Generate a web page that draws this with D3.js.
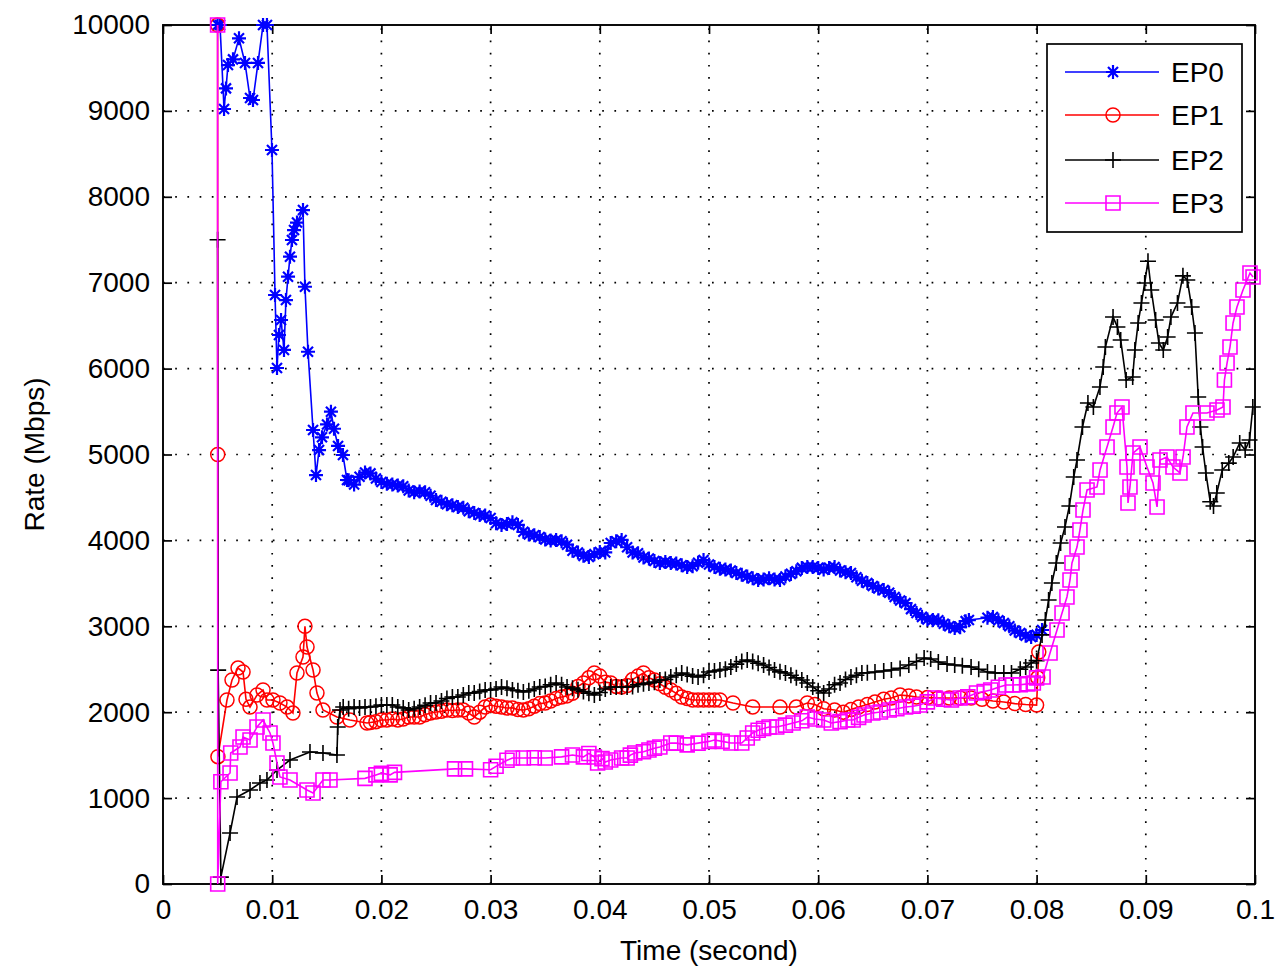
<!DOCTYPE html>
<html><head><meta charset="utf-8">
<script src="https://cdn.jsdelivr.net/npm/d3@7"></script>
<style>body{margin:0;background:#fff}svg text{font-family:"Liberation Sans",Arial,Helvetica,sans-serif;fill:#000}</style>
</head><body><svg id="chart" width="1275" height="971"></svg>
<script>
// ---- data (time in milliseconds, rate in Mbps) ----
const xTickValues=[0,0.01,0.02,0.03,0.04,0.05,0.06,0.07,0.08,0.09,0.1];
const xTickLabels=["0","0.01","0.02","0.03","0.04","0.05","0.06","0.07","0.08","0.09","0.1"];
const yTickValues=[0,1000,2000,3000,4000,5000,6000,7000,8000,9000,10000];
const yTickLabels=["0","1000","2000","3000","4000","5000","6000","7000","8000","9000","10000"];
const seriesNames=["EP0","EP1","EP2","EP3"];
const seriesColors=["#0000ff","#ff0000","#000000","#ff00ff"];
const seriesMarkers=["asterisk","circle","plus","square"];

const ep0Points=[[5.00,10000],[5.22,10000],[5.59,9022],[5.77,9262],[5.95,9534],[6.41,9600],[6.96,9845],[7.51,9558],[7.97,9150],[8.24,9127],
[8.70,9558],[9.16,10000],[9.52,10000],[9.98,8545],[10.26,6857],[10.44,6007],[10.62,6391],[10.81,6566],[11.08,6217],[11.26,6798],
[11.45,7070],[11.63,7303],[11.81,7497],[12.00,7613],[12.27,7700],[12.82,7846],[13.00,6953],[13.28,6196],[13.74,5285],[14.01,4761],
[14.29,5052],[14.56,5200],[15.02,5350],[15.38,5498],[15.66,5300],[16.03,5100],[16.48,4994],[16.85,4703],
[17,4700],[17.5,4650],[18,4740],[18.5,4790],[19,4780],[19.5,4720],[20,4680],[20.5,4660],[21,4650],[21.5,4640],
[22,4630],[22.5,4580],[23,4560],[23.5,4570],[24,4560],[24.5,4520],[25,4470],[25.5,4450],[26,4420],[26.5,4410],
[27,4390],[27.5,4380],[28,4340],[28.5,4320],[29,4296],[29.5,4290],[30,4260],[30.5,4200],[31,4180],[31.5,4190],
[32,4210],[32.5,4180],[33,4100],[33.5,4070],[34,4060],[34.5,4040],[35,4010],[35.5,4000],[36,4005],[36.5,3990],
[37,3950],[37.5,3880],[38,3860],[38.5,3820],[39,3807],[39.5,3840],[40,3865],[40.5,3860],[41,3970],[41.5,3990],
[42,4005],[42.5,3920],[43,3860],[43.5,3850],[44,3800],[44.5,3790],[45,3760],[45.5,3737],[46,3750],[46.5,3737],
[47,3730],[47.5,3710],[48,3690],[48.5,3700],[49,3740],[49.5,3772],[50,3720],[50.5,3690],[51,3670],[51.5,3660],
[52,3650],[52.5,3620],[53,3600],[53.5,3580],[54,3560],[54.5,3539],[55,3545],[55.5,3560],[56,3545],[56.5,3539],
[57,3580],[57.5,3610],[58,3640],[58.5,3680],[59,3690],[59.5,3690],[60,3680],[60.5,3660],[61,3680],[61.5,3690],
[62,3650],[62.5,3630],[63,3620],[63.5,3570],[64,3530],[64.5,3504],[65,3470],[65.5,3440],[66,3422],[66.5,3390],
[67,3340],[67.5,3300],[68,3270],[68.5,3200],[69,3155],[69.5,3110],[70,3080],[70.5,3073],[71,3070],[71.5,3030],
[72,3000],[72.5,2980],[73,2990],[73.5,3060],[73.8,3073],[75.5,3100],[76,3108],[76.5,3070],[77,3038],[77.5,3000],
[78,2950],[78.5,2922],[79,2890],[79.5,2875],[80,2900],[80.5,2957]];

const ep1Points=[[5.00,10000],[5.01,5000],[5.03,1482],[5.86,2142],[6.32,2375],[6.87,2514],[7.33,2468],[7.60,2150],[7.97,2060],[8.61,2200],
[9.16,2258],[9.52,2142],[10.07,2142],[10.71,2107],[11.36,2060],[11.90,1990],[12.27,2456],[12.82,2643],[13.00,3000],[13.19,2759],
[13.74,2491],[14.10,2223],[14.65,2025],[15.93,1944],[17.12,1909],[18.68,1874],
[19,1880],[19.5,1890],[20,1909],[20.5,1909],[21,1920],[21.5,1909],[22,1920],[22.5,1944],[23,1944],[23.5,1944],
[24,1970],[24.5,1990],[25,2002],[25.5,2010],[26,2025],[26.5,2020],[27,2025],[27.5,2025],[28,1990],[28.5,1944],
[29,2000],[29.5,2060],[30,2083],[30.5,2070],[31,2060],[31.5,2049],[32,2050],[32.5,2030],[33,2025],[33.5,2040],
[34,2070],[34.5,2100],[35,2107],[35.5,2130],[36,2160],[36.5,2177],[37,2190],[37.5,2220],[38,2300],[38.5,2340],
[39,2400],[39.5,2456],[40,2420],[40.5,2350],[41,2340],[41.5,2300],[42,2293],[42.5,2310],[43,2380],[43.5,2420],
[44,2456],[44.5,2400],[45,2375],[45.5,2330],[46,2290],[46.5,2258],[47,2220],[47.5,2177],[48,2160],[48.5,2142],
[49,2142],[49.5,2142],[50,2142],[50.5,2142],[51,2142],
[52.2,2107],[54.0,2060],[56.5,2060],[58.0,2060],[59.0,2107],[59.7,2090],[60.5,2040],[61.5,2025],[62.3,2000],[63.0,2030],
[63.7,2060],[64.5,2090],[65.2,2118],[66.0,2150],[66.7,2165],[67.5,2200],[68.3,2190],[69.0,2177],[70.0,2170],[71.0,2165],
[72.0,2165],[73.0,2165],[74.0,2165],[75.0,2150],[76.0,2130],[77.0,2118],[78.0,2100],[79.0,2090],[80.0,2083],[80.1,2400],[80.2,2700]];

const ep2Points=[[5.00,7500],[5.05,2490],[5.30,80],[6.14,594],[6.78,1013],[7.97,1094],[8.88,1176],[9.52,1210],[10.44,1327],[11.63,1443],
[13.46,1537],[14.65,1525],[15.93,1502],[16.00,1828],[16.21,2025],
[16.5,2060],[17,2040],[17.5,2060],[18,2049],[18.5,2060],[19,2060],[19.5,2070],[20,2083],[20.5,2083],[21,2083],
[21.5,2060],[22,2050],[22.5,2025],[23,2040],[23.5,2060],[24,2080],[24.5,2107],[25,2107],[25.5,2130],[26,2160],
[26.5,2177],[27,2177],[27.5,2200],[28,2223],[28.5,2223],[29,2240],[29.5,2258],[30,2258],[30.5,2270],[31,2293],
[31.5,2280],[32,2258],[32.5,2250],[33,2235],[33.5,2250],[34,2270],[34.5,2293],[35,2300],[35.5,2320],[36,2340],
[36.5,2320],[37,2293],[37.5,2280],[38,2260],[38.5,2240],[39,2220],[39.5,2200],[40,2230],[40.5,2270],[41,2293],
[41.5,2293],[42,2293],[42.5,2293],[43,2300],[43.5,2320],[44,2330],[44.5,2340],[45,2350],[45.5,2375],[46,2380],
[46.5,2410],[47,2430],[47.5,2456],[48,2440],[48.5,2420],[49,2410],[49.5,2430],[50,2468],[50.5,2480],[51,2491],
[51.5,2500],[52,2526],[52.5,2560],[53,2590],[53.5,2608],[54,2590],[54.5,2570],[55,2550],[55.5,2520],[56,2491],
[56.5,2470],[57,2456],[57.5,2430],[58,2400],[58.5,2375],[59,2340],[59.5,2293],[60,2250],[60.5,2223],[61,2270],
[61.5,2320],[62,2340],[62.5,2380],[63,2410],[63.5,2430],[64,2456],[64.5,2460],
[65.2,2468],[66.0,2480],[66.7,2491],[67.5,2510],[68.3,2550],[69.0,2590],[69.7,2631],[70.3,2620],[71.0,2584],[71.8,2560],
[72.5,2550],[73.2,2540],[74.0,2526],[74.7,2500],[75.5,2468],[76.2,2456],[77.0,2456],[77.7,2456],[78.5,2500],[79.0,2526],
[79.5,2573],[80.0,2600],[80.5,2900],[80.8,3073],[81.1,3306],[81.4,3504],[81.8,3737],[82.2,3970],[82.6,4156],[83.0,4400],
[83.4,4738],[83.7,4936],[84.2,5320],[84.7,5600],[85.2,5553],[85.8,5786],[86.1,6018],[86.3,6251],[87.0,6600],[87.4,6484],
[87.7,6333],[88.2,5867],[88.8,5902],[89.0,6216],[89.3,6531],[89.6,6763],[89.9,6996],[90.2,7250],[90.5,6915],[90.9,6566],
[91.2,6298],[91.6,6216],[92.0,6368],[92.3,6600],[92.9,6763],[93.4,7080],[93.8,7031],[94.2,6717],[94.5,6414],[94.8,5669],
[95.0,5320],[95.2,5087],[95.5,4785],[95.9,4450],[96.2,4400],[96.5,4552],[97.0,4819],[97.6,4900],[98.0,4971],[98.6,5134],
[99.1,5052],[99.5,5169],[99.8,5553]];

const ep3Points=[[5.00,10000],[5.01,0],[5.30,1190],[6.14,1292],[6.20,1525],[7.05,1595],[7.33,1711],[7.97,1676],[8.61,1828],[9.16,1909],
[9.80,1758],[10.07,1641],[10.44,1409],[10.71,1246],[11.63,1210],[13.19,1094],[13.74,1059],[14.65,1210],[15.29,1210],[18.50,1230],
[19.50,1270],[20.00,1290],[20.80,1270],[21.20,1300],[26.70,1340],[27.70,1340],[30.00,1330],[30.50,1370],[31.50,1440],[32.00,1467],
[33.00,1467],[34.00,1470],[35.00,1467],[36.50,1480],[37.50,1502],[38.50,1480],[39.00,1520],[39.50,1478],[39.80,1409],[40.20,1460],
[40.50,1420],[41.00,1443],[42.00,1467],[42.50,1467],[42.80,1500],[43.20,1525],[44.00,1540],[44.50,1560],[45.00,1580],[45.50,1595],
[46.50,1641],[47.00,1640],[48.00,1620],[49.00,1640],[50.00,1660],[50.50,1676],[51.20,1660],[52.00,1641],[53.00,1641],[53.50,1700],
[54.00,1758],[54.50,1790],[55.00,1810],[55.50,1828],[56.20,1828],[57.00,1850],[57.70,1874],[58.50,1900],[59.00,1944],[59.70,1920],
[60.50,1909],[61.20,1874],[62.00,1890],[62.70,1909],[63.20,1909],[63.70,1940],[64.20,1967],[65.00,1990],[65.70,2002],[66.50,2025],
[67.20,2040],[68.00,2060],[68.70,2070],[69.30,2083],[70.00,2120],[70.70,2165],[71.50,2150],[72.20,2142],[73.00,2165],[73.70,2180],
[74.50,2223],[75.20,2240],[75.80,2258],[76.50,2290],[77.20,2316],[77.80,2316],[78.50,2320],[79.20,2330],[79.70,2340],[80.00,2400],
[80.59,2410],[81.23,2689],[81.87,2957],[82.33,3155],[82.78,3341],[83.06,3539],[83.24,3737],[83.70,3923],[83.97,4121],[84.25,4354],
[84.62,4587],[85.53,4622],[85.81,4819],[86.45,5087],[87.00,5320],[87.36,5483],[87.82,5553],[88.28,4854],[88.37,4436],[88.55,4622],
[88.83,5017],[89.47,5087],[90.11,4854],[90.66,4668],[91.03,4389],[91.30,4936],[91.94,4971],[92.49,4854],[93.13,4785],[93.41,4971],
[93.77,5320],[94.32,5483],[95.60,5483],[96.52,5518],[97.07,5553],[97.20,5867],[97.44,6065],[97.71,6251],[97.99,6531],[98.35,6717],
[98.90,6915],[99.54,7113],[99.82,7066]];

const seriesData=[ep0Points,ep1Points,ep2Points,ep3Points];

// ---- layout ----
const L=163,R=1255,T=25,B=884;
const svg=d3.select("#chart");
const x=d3.scaleLinear().domain([0,0.1]).range([L,R]);
const y=d3.scaleLinear().domain([0,10000]).range([B,T]);

svg.append("rect").attr("width",1275).attr("height",971).attr("fill","#fff");

// grid
const grid=svg.append("g").attr("stroke","#000").attr("stroke-width",1.7).attr("stroke-dasharray","1.7 10.5").attr("stroke-linecap","butt");
grid.selectAll(".gx").data(xTickValues.slice(1,-1)).join("line")
  .attr("x1",d=>x(d)).attr("x2",d=>x(d)).attr("y1",B).attr("y2",T);
grid.selectAll(".gy").data(yTickValues.slice(1,-1)).join("line")
  .attr("y1",d=>y(d)).attr("y2",d=>y(d)).attr("x1",L).attr("x2",R);

// axes
const fs=28;
const xAxis=d3.axisBottom(x).tickValues(xTickValues).tickFormat((d,i)=>xTickLabels[i]).tickSize(-9).tickPadding(15);
const yAxis=d3.axisLeft(y).tickValues(yTickValues).tickFormat((d,i)=>yTickLabels[i]).tickSize(-9).tickPadding(13);
const gx=svg.append("g").attr("transform",`translate(0,${B})`).call(xAxis);
const gy=svg.append("g").attr("transform",`translate(${L},0)`).call(yAxis);
const gxt=svg.append("g").attr("transform",`translate(0,${T})`).call(d3.axisTop(x).tickValues(xTickValues).tickFormat("").tickSize(-9));
const gyr=svg.append("g").attr("transform",`translate(${R},0)`).call(d3.axisRight(y).tickValues(yTickValues).tickFormat("").tickSize(-9));
[gx,gy,gxt,gyr].forEach(g=>{
  g.select(".domain").remove();
  g.selectAll(".tick line").attr("stroke","#000").attr("stroke-width",1.7);
  g.selectAll("text").attr("font-size",fs).attr("font-family","Liberation Sans, Arial, sans-serif").attr("fill","#000");
});
svg.append("rect").attr("x",L).attr("y",T).attr("width",R-L).attr("height",B-T)
  .attr("fill","none").attr("stroke","#000").attr("stroke-width",1.9);

// axis titles
svg.append("text").attr("x",(L+R)/2).attr("y",960).attr("text-anchor","middle").attr("font-size",fs).text("Time (second)");
svg.append("text").attr("transform",`translate(44,${(T+B)/2}) rotate(-90)`).attr("text-anchor","middle").attr("font-size",fs).text("Rate (Mbps)");

// markers
function markerPath(type){
  if(type==="asterisk"){const s=7,a=5;return `M${-s},0H${s}M0,${-s}V${s}M${-a},${-a}L${a},${a}M${-a},${a}L${a},${-a}`;}
  if(type==="plus"){const s=8;return `M${-s},0H${s}M0,${-s}V${s}`;}
  if(type==="square"){const h=7;return `M${-h},${-h}H${h}V${h}H${-h}Z`;}
  const r=7;return `M${r},0A${r},${r} 0 1,1 ${-r},0A${r},${r} 0 1,1 ${r},0Z`;
}
const markerWidth=[2.2,1.5,1.6,1.6];

const line=d3.line().x(d=>x(d[0]/1000)).y(d=>y(d[1]));
seriesData.forEach((pts,i)=>{
  const g=svg.append("g");
  g.append("path").datum(pts).attr("d",line).attr("fill","none").attr("stroke",seriesColors[i]).attr("stroke-width",1.6);
  g.selectAll("path.m").data(pts).join("path").attr("class","m")
    .attr("transform",d=>`translate(${x(d[0]/1000)},${y(d[1])})`)
    .attr("d",markerPath(seriesMarkers[i])).attr("fill","none")
    .attr("stroke",seriesColors[i]).attr("stroke-width",markerWidth[i]);
});

// legend
const lg=svg.append("g");
lg.append("rect").attr("x",1047).attr("y",44).attr("width",195).attr("height",188)
  .attr("fill","#fff").attr("stroke","#000").attr("stroke-width",1.7);
const rowY=[72,115,160,203];
seriesNames.forEach((n,i)=>{
  lg.append("line").attr("x1",1065).attr("x2",1159).attr("y1",rowY[i]).attr("y2",rowY[i]).attr("stroke",seriesColors[i]).attr("stroke-width",1.6);
  lg.append("path").attr("transform",`translate(1113,${rowY[i]})`).attr("d",markerPath(seriesMarkers[i]))
    .attr("fill","none").attr("stroke",seriesColors[i]).attr("stroke-width",markerWidth[i]);
  lg.append("text").attr("x",1171).attr("y",rowY[i]).attr("dy","0.36em").attr("font-size",fs).text(n);
});
</script></body></html>
